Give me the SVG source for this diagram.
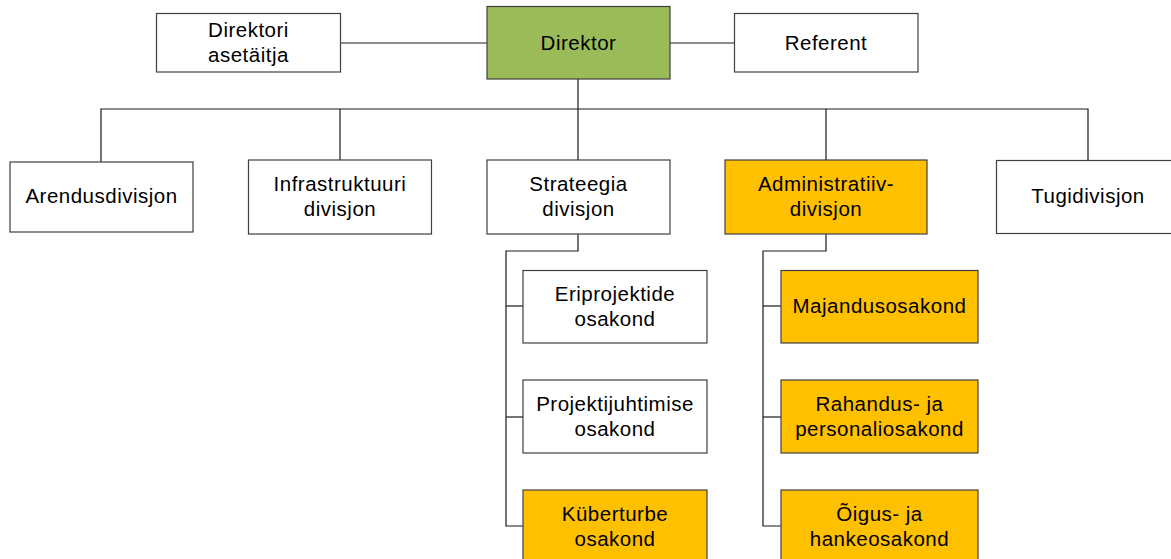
<svg xmlns="http://www.w3.org/2000/svg" width="1171" height="559" viewBox="0 0 1171 559">
  <style>
    .box { stroke: #404040; stroke-width: 1.2; }
    .plain { fill: #ffffff; }
    .head { fill: #9bbb59; }
    .hi { fill: #ffc000; }
    .lbl { font-family: "Liberation Sans", Arial, sans-serif; font-size: 20.5px; letter-spacing: 0.5px; fill: #000; text-anchor: middle; }
    .conn { fill: none; stroke: #1a1a1a; stroke-width: 1.2; }
  </style>
  <rect width="1171" height="559" fill="#ffffff"/>

  <!-- connectors -->
  <g id="connectors" class="conn">
    <path d="M340 43 H487"/>
    <path d="M670 43 H734"/>
    <path d="M578 79 V109"/>
    <path d="M101 162 V109 H1088 V160"/>
    <path d="M340 109 V160"/>
    <path d="M578 109 V160"/>
    <path d="M826 109 V160"/>
    <path d="M578 234 V251 H506 V526 H523"/>
    <path d="M506 306 H523"/>
    <path d="M506 417 H523"/>
    <path d="M826 234 V251 H763 V526 H781"/>
    <path d="M763 306 H781"/>
    <path d="M763 417 H781"/>
  </g>

  <!-- top level -->
  <g id="asetaitja">
    <rect class="box plain" x="156.5" y="13.5" width="184" height="58.5"/>
    <text class="lbl" x="248.5" y="37">Direktori</text>
    <text class="lbl" x="248.5" y="62">asetäitja</text>
  </g>
  <g id="direktor">
    <rect class="box head" x="487" y="6.5" width="183" height="72.5"/>
    <text class="lbl" x="578.5" y="50">Direktor</text>
  </g>
  <g id="referent">
    <rect class="box plain" x="734.5" y="13.5" width="183.5" height="58.5"/>
    <text class="lbl" x="826" y="50">Referent</text>
  </g>

  <!-- divisions -->
  <g id="arendus">
    <rect class="box plain" x="10" y="162" width="183" height="70"/>
    <text class="lbl" x="101.5" y="203">Arendusdivisjon</text>
  </g>
  <g id="infrastruktuur">
    <rect class="box plain" x="248.5" y="160" width="183" height="74"/>
    <text class="lbl" x="340" y="191">Infrastruktuuri</text>
    <text class="lbl" x="340" y="216">divisjon</text>
  </g>
  <g id="strateegia">
    <rect class="box plain" x="487" y="160" width="183" height="74"/>
    <text class="lbl" x="578.5" y="191">Strateegia</text>
    <text class="lbl" x="578.5" y="216">divisjon</text>
  </g>
  <g id="administratiiv">
    <rect class="box hi" x="725" y="160" width="202" height="74"/>
    <text class="lbl" x="826" y="191">Administratiiv-</text>
    <text class="lbl" x="826" y="216">divisjon</text>
  </g>
  <g id="tugi">
    <rect class="box plain" x="996.5" y="160.5" width="184" height="73"/>
    <text class="lbl" x="1088" y="203">Tugidivisjon</text>
  </g>

  <!-- strategy departments -->
  <g id="eriprojektide">
    <rect class="box plain" x="523" y="270.5" width="184" height="72.5"/>
    <text class="lbl" x="615" y="301">Eriprojektide</text>
    <text class="lbl" x="615" y="326">osakond</text>
  </g>
  <g id="projektijuhtimise">
    <rect class="box plain" x="523" y="380" width="184" height="73"/>
    <text class="lbl" x="615" y="411">Projektijuhtimise</text>
    <text class="lbl" x="615" y="436">osakond</text>
  </g>
  <g id="kuberturbe">
    <rect class="box hi" x="523" y="490" width="184" height="73"/>
    <text class="lbl" x="615" y="521">Küberturbe</text>
    <text class="lbl" x="615" y="546">osakond</text>
  </g>

  <!-- administrative departments -->
  <g id="majandus">
    <rect class="box hi" x="781" y="270.5" width="197" height="72.5"/>
    <text class="lbl" x="879.5" y="313">Majandusosakond</text>
  </g>
  <g id="rahandus">
    <rect class="box hi" x="781" y="380" width="197" height="73"/>
    <text class="lbl" x="879.5" y="411">Rahandus- ja</text>
    <text class="lbl" x="879.5" y="436">personaliosakond</text>
  </g>
  <g id="oigus">
    <rect class="box hi" x="781" y="490" width="197" height="73"/>
    <text class="lbl" x="879.5" y="521">Õigus- ja</text>
    <text class="lbl" x="879.5" y="546">hankeosakond</text>
  </g>
</svg>
